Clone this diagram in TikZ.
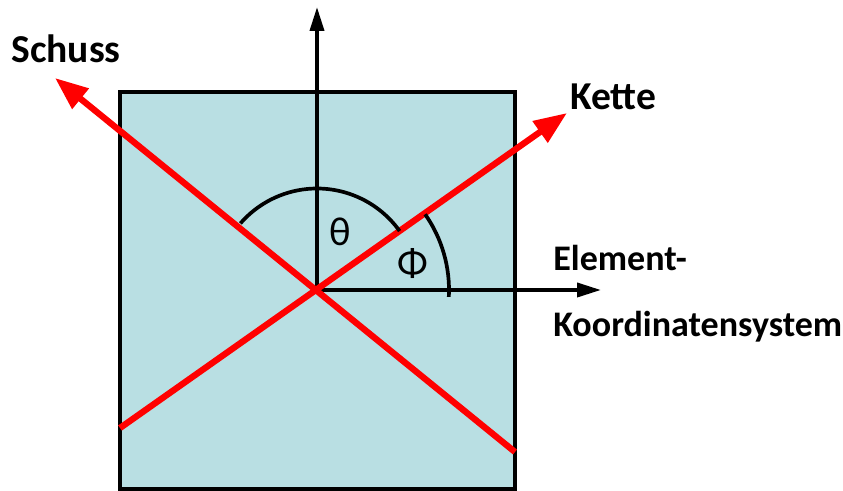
\documentclass[tikz,border=0pt]{standalone}
\usepackage{fontspec}
\setmainfont{Carlito}
\usetikzlibrary{arrows.meta}
\definecolor{feld}{RGB}{185,223,227}
\definecolor{faser}{RGB}{255,0,0}
\begin{document}
\begin{tikzpicture}[>={Triangle[length=0.48cm,width=0.28cm]},
  achse/.style={line width=2.1pt,->},
  richtung/.style={line width=3.6pt,draw=faser,-{Triangle[length=0.66cm,width=0.5cm]}},
  winkel/.style={line width=2.1pt},
  gross/.style={font=\fontsize{22.5}{26}\selectfont\bfseries,inner sep=0pt,anchor=base west},
  klein/.style={font=\fontsize{20.5}{24}\selectfont\bfseries,inner sep=0pt,anchor=base west},
  griech/.style={font=\fontsize{23}{27}\selectfont,inner sep=0pt}]

\useasboundingbox (0,0) rectangle (16.86,9.82);

\draw[line width=2.4pt,fill=feld] (2.4,0.04) rectangle (10.3,7.98);

\coordinate (O) at (6.34,4.02);
\coordinate (oben) at (6.34,9.68);
\coordinate (rechts) at (12.02,4.02);

\draw[achse] (O) -- (oben);
\draw[achse] (O) -- (rechts);

\coordinate (ketteA) at (2.4,1.26);
\coordinate (ketteB) at (11.34,7.56);
\coordinate (schussA) at (10.3,0.78);
\coordinate (schussB) at (1.1,8.26);

\draw[richtung] (ketteA) -- (ketteB);
\draw[richtung] (schussA) -- (schussB);

\draw[winkel] (O) ++(35.5:2.03) arc (35.5:139:2.03);
\draw[winkel] (O) ++(-3:2.64) arc (-3:35:2.64);

\node[griech] (theta) at (6.8,5.18) {θ};
\node[griech] (phi) at (8.26,4.54) {Φ};

\node[gross] (schuss) at (0.22,8.56) {Schuss};
\node[gross] (kette) at (11.4,7.62) {Kette};
\node[klein] (element) at (11.06,4.4) {Element-};
\node[klein] (system) at (11.06,3.08) {Koordinatensystem};

\end{tikzpicture}
\end{document}
